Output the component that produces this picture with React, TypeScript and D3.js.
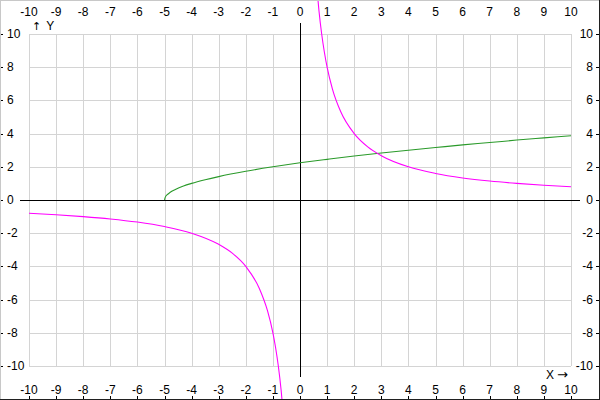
import React, { useEffect, useRef } from "react";
import * as d3 from "d3";

// tick values
const xTicks = d3.range(-10, 11, 1);
const yTicks = d3.range(-10, 11, 2);

// magenta curve (two branches)
const hypXRight = [0.6, 0.7, 0.8, 0.9, 1, 1.2, 1.5, 2, 2.5, 3, 4, 5, 6, 7, 8, 9, 10];
const hypYRight = [13.3, 11.4, 10, 8.9, 8, 6.67, 5.33, 4, 3.2, 2.67, 2, 1.6, 1.33, 1.14, 1, 0.89, 0.8];
const hypXLeft = [-10, -9, -8, -7, -6, -5, -4, -3, -2.5, -2, -1.5, -1.2, -1, -0.9, -0.8, -0.7, -0.6];
const hypYLeft = [-0.8, -0.89, -1, -1.14, -1.33, -1.6, -2, -2.67, -3.2, -4, -5.33, -6.67, -8, -8.9, -10, -11.4, -13.3];

// green curve
const rootX = [-5, -4.97, -4.9, -4.8, -4.6, -4.3, -4, -3.5, -3, -2, -1, 0, 1, 2, 3, 4, 5, 6, 7, 8, 9, 10];
const rootY = [0, 0.17, 0.32, 0.45, 0.63, 0.84, 1, 1.22, 1.41, 1.73, 2, 2.24, 2.45, 2.65, 2.83, 3, 3.16, 3.32, 3.46, 3.61, 3.74, 3.87];

const W = 600;
const H = 400;

const App: React.FC = () => {
  const svgRef = useRef<SVGSVGElement | null>(null);

  useEffect(() => {
    const svg = d3.select(svgRef.current);
    svg.selectAll("*").remove();

    const x = d3.scaleLinear().domain([-10, 10]).range([29, 571]);
    const y = d3.scaleLinear().domain([-10, 10]).range([366, 34]);
    const font = "'Liberation Sans', Arial, sans-serif";

    svg.append("rect").attr("width", W).attr("height", H).attr("fill", "#fff");

    // grid
    const grid = svg.append("g").attr("stroke", "#d4d4d4").attr("stroke-width", 1);
    grid
      .selectAll("line.v")
      .data(xTicks)
      .enter()
      .append("line")
      .attr("x1", (d) => Math.round(x(d)) + 0.5)
      .attr("x2", (d) => Math.round(x(d)) + 0.5)
      .attr("y1", y(10))
      .attr("y2", y(-10));
    grid
      .selectAll("line.h")
      .data(yTicks)
      .enter()
      .append("line")
      .attr("y1", (d) => Math.round(y(d)) + 0.5)
      .attr("y2", (d) => Math.round(y(d)) + 0.5)
      .attr("x1", x(-10))
      .attr("x2", x(10));

    // axes through zero
    svg
      .append("line")
      .attr("x1", x(-10) - 9)
      .attr("x2", x(10) + 9)
      .attr("y1", Math.round(y(0)) + 0.5)
      .attr("y2", Math.round(y(0)) + 0.5)
      .attr("stroke", "#000");
    svg
      .append("line")
      .attr("x1", Math.round(x(0)) + 0.5)
      .attr("x2", Math.round(x(0)) + 0.5)
      .attr("y1", y(10) - 11)
      .attr("y2", y(-10) + 11)
      .attr("stroke", "#000");

    // tick labels
    const lab = svg.append("g").attr("font-family", font).attr("font-size", 12).attr("fill", "#000");
    lab
      .selectAll("text.top")
      .data(xTicks)
      .enter()
      .append("text")
      .attr("x", (d) => x(d))
      .attr("y", 16)
      .attr("text-anchor", "middle")
      .text((d) => d);
    lab
      .selectAll("text.bot")
      .data(xTicks)
      .enter()
      .append("text")
      .attr("x", (d) => x(d))
      .attr("y", 394)
      .attr("text-anchor", "middle")
      .text((d) => d);
    lab
      .selectAll("text.left")
      .data(yTicks)
      .enter()
      .append("text")
      .attr("x", 7)
      .attr("y", (d) => y(d) + 4)
      .text((d) => d);
    lab
      .selectAll("text.right")
      .data(yTicks)
      .enter()
      .append("text")
      .attr("x", 593)
      .attr("y", (d) => y(d) + 4)
      .attr("text-anchor", "end")
      .text((d) => d);

    // tick marks on the edges
    const tk = svg.append("g").attr("stroke", "#000");
    tk.selectAll("line.l")
      .data(yTicks)
      .enter()
      .append("line")
      .attr("x1", 0)
      .attr("x2", 3)
      .attr("y1", (d) => Math.round(y(d)) + 0.5)
      .attr("y2", (d) => Math.round(y(d)) + 0.5);
    tk.selectAll("line.r")
      .data(yTicks)
      .enter()
      .append("line")
      .attr("x1", 596)
      .attr("x2", 600)
      .attr("y1", (d) => Math.round(y(d)) + 0.5)
      .attr("y2", (d) => Math.round(y(d)) + 0.5);
    tk.selectAll("line.b")
      .data(xTicks)
      .enter()
      .append("line")
      .attr("y1", 396)
      .attr("y2", 400)
      .attr("x1", (d) => Math.round(x(d)) + 0.5)
      .attr("x2", (d) => Math.round(x(d)) + 0.5);

    // axis names
    const yName = lab.append("text").attr("x", 32).attr("y", 30);
    yName.append("tspan").attr("font-family", "'DejaVu Sans', sans-serif").attr("font-size", 11).text("↑");
    yName.append("tspan").attr("dx", 5).text("Y");
    const xName = lab.append("text").attr("x", 546).attr("y", 379);
    xName.append("tspan").text("X");
    xName.append("tspan").attr("dx", 3).attr("font-family", "'DejaVu Sans', sans-serif").attr("font-size", 13).text("→");

    // curves
    const line = d3
      .line<[number, number]>()
      .x((d) => x(d[0]))
      .y((d) => y(d[1]))
      .curve(d3.curveMonotoneX);

    const right = hypXRight.map((v, i) => [v, hypYRight[i]] as [number, number]);
    const left = hypXLeft.map((v, i) => [v, hypYLeft[i]] as [number, number]);
    const root = rootX.map((v, i) => [v, rootY[i]] as [number, number]);

    svg.append("path").attr("d", line(root)).attr("fill", "none").attr("stroke", "#2a9a2a").attr("stroke-width", 1.1);
    [left, right].forEach((pts) =>
      svg.append("path").attr("d", line(pts)).attr("fill", "none").attr("stroke", "#ff00ff").attr("stroke-width", 1.1)
    );

    // border: light top/left, dark bottom/right
    svg.append("line").attr("x1", 0).attr("x2", W).attr("y1", 0.5).attr("y2", 0.5).attr("stroke", "#c8c8c8");
    svg.append("line").attr("x1", 0.5).attr("x2", 0.5).attr("y1", 0).attr("y2", H).attr("stroke", "#c8c8c8");
    svg.append("line").attr("x1", 0).attr("x2", W).attr("y1", H - 0.5).attr("y2", H - 0.5).attr("stroke", "#202020");
    svg.append("line").attr("x1", W - 0.5).attr("x2", W - 0.5).attr("y1", 0).attr("y2", H).attr("stroke", "#202020");
  }, []);

  return (
    <svg
      ref={svgRef}
      width={W}
      height={H}
      style={{ position: "absolute", left: 0, top: 0, display: "block" }}
    />
  );
};

export default App;
